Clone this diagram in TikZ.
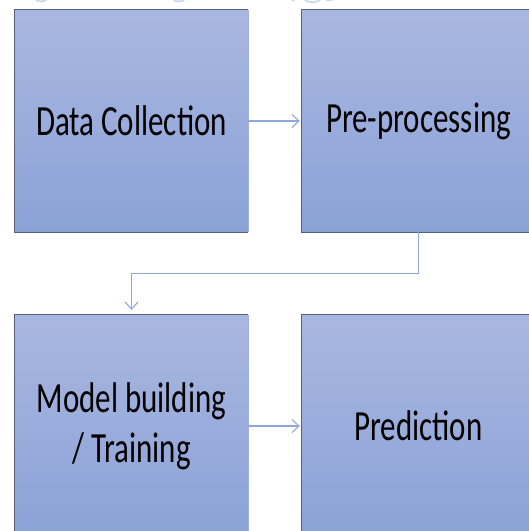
\documentclass[tikz,border=0pt]{standalone}
\usepackage{fontspec}
\newfontfamily\boxfont[FakeStretch=0.72]{Carlito}
\usetikzlibrary{arrows.meta}
\definecolor{boxtop}{HTML}{A9B7E0}
\definecolor{boxbot}{HTML}{8BA2D7}
\definecolor{boxedge}{HTML}{56627C}
\definecolor{boxlight}{HTML}{A3B2DB}
\definecolor{flow}{HTML}{8EA8DB}
\definecolor{headblue}{HTML}{7D9AD0}
\tikzset{
  x=1pt, y=1pt,
  stage/.style={rectangle, minimum width=233pt, minimum height=222pt,
    inner sep=0pt, shading=axis, top color=boxtop, bottom color=boxbot,
    font=\boxfont\fontsize{43}{50}\selectfont, align=center, text=black},
  flowline/.style={draw=flow, line width=1.1pt,
    -{Straight Barb[length=7pt,width=13pt,line width=1.1pt]}},
  rim/.style={draw=boxedge, line width=1.1pt},
  rimlight/.style={draw=boxlight, line width=1.1pt},
  headfrag/.style={draw=headblue, line width=1.8pt, line cap=round, opacity=0.4}
}
\begin{document}
\begin{tikzpicture}
\useasboundingbox (0,0) rectangle (529,-531);
\begin{scope}
\clip (0,0) rectangle (529,-531);

% descender tails of the heading line above the chart
\draw[headfrag] (36,0) to[bend right=30] (46,0);
\draw[headfrag] (174,0) to[bend right=30] (184,0);
\draw[headfrag] (292,0) -- (294,-0.8);
\draw[headfrag] (305,0) to[bend right=30] (320,0);
\draw[headfrag] (327,-0.5) -- (332,0);

% process stages
\node[stage] (collect) at (131.5,-121) {Data Collection};
\node[stage] (prep)    at (418.5,-121) {Pre-processing};
\node[stage] (model)   at (131.5,-426) {Model building\\/ Training};
\node[stage] (predict) at (418.5,-426) {Prediction};

% box outlines: dark top/left/bottom, lighter right side
\foreach \b in {collect,prep,model,predict}{
  \draw[rim] (\b.south east) -- (\b.south west) -- (\b.north west) -- (\b.north east);
  \draw[rimlight] (\b.north east) -- (\b.south east);
}

% connectors
\draw[flowline] (collect.east) -- ([xshift=-2pt]prep.west);
\draw[flowline] (prep.south) -- ++(0,-41) -| ([yshift=5pt]model.north);
\draw[flowline] (model.east) -- ([xshift=-2pt]predict.west);
\end{scope}
\end{tikzpicture}
\end{document}
